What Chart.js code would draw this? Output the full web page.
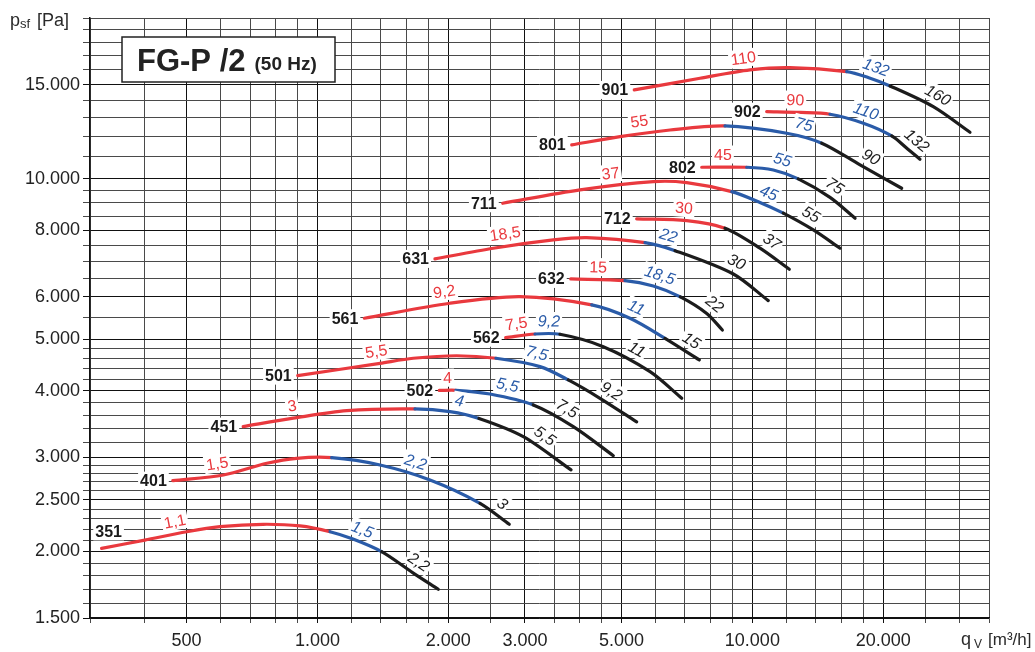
<!DOCTYPE html>
<html>
<head>
<meta charset="utf-8">
<script src="https://cdn.jsdelivr.net/npm/chart.js@4.4.1/dist/chart.umd.min.js"></script>
<style>
  html, body { margin: 0; padding: 0; background: #fff; }
</style>
</head>
<body>
<canvas id="fanChart" width="1035" height="652"></canvas>
<script>
// fan types in drawing order
const fanNames = ['351', '401', '451', '501', '502', '561', '562', '631', '632', '711', '712', '801', '802', '901', '902'];

// qv [m3/h] and psf [Pa]
const q351 = [319, 401, 501, 597, 750, 912, 1069, 1207, 1405, 1658, 1896];
const p351 = [2026, 2100, 2177, 2225, 2248, 2232, 2177, 2109, 1997, 1823, 1698];
const q401 = [465, 608, 765, 896, 1078, 1393, 1815, 2365, 2761];
const p401 = [2714, 2781, 2925, 2989, 2997, 2904, 2722, 2461, 2248];
const q451 = [675, 880, 1168, 1676, 2017, 2352, 2974, 3829];
const p451 = [3427, 3554, 3672, 3699, 3656, 3550, 3282, 2843];
const q501 = [901, 1393, 1661, 2090, 2573, 3249, 3774, 4463, 5420];
const p501 = [4271, 4504, 4603, 4654, 4603, 4440, 4192, 3873, 3497];
const q502 = [1906, 2082, 2493, 3136, 3875, 4790];
const p502 = [4006, 4009, 3945, 3763, 3427, 3023];
const q561 = [1282, 2017, 2922, 4272, 5231, 6297, 7552];
const p561 = [5472, 5838, 6006, 5796, 5472, 5017, 4570];
const q562 = [2709, 3164, 3611, 4542, 5818, 6881];
const p562 = [5031, 5112, 5106, 4840, 4344, 3873];
const q631 = [1863, 2537, 3486, 4160, 5664, 6641, 9040, 10879];
const p631 = [7069, 7403, 7672, 7749, 7583, 7326, 6624, 5904];
const q632 = [3823, 5095, 5920, 6830, 7853, 8531];
const p632 = [6483, 6436, 6290, 5999, 5586, 5201];
const q711 = [2667, 4015, 5920, 7065, 8964, 10411, 11780, 13809, 15904];
const p711 = [8988, 9522, 9867, 9825, 9452, 9020, 8611, 8010, 7403];
const q712 = [5420, 7065, 8651, 10411, 12160];
const p712 = [8403, 8339, 8069, 7403, 6760];
const q801 = [3843, 4961, 6466, 8651, 11994, 14437, 17687, 22045];
const p801 = [11564, 11985, 12333, 12549, 12160, 11649, 10609, 9590];
const q802 = [7648, 9705, 11172, 12753, 15084, 17225];
const p802 = [10500, 10500, 10377, 9985, 9218, 8427];
const q901 = [5351, 7580, 9875, 12206, 16477, 18450, 20723, 26057, 31647];
const p901 = [14661, 15418, 15984, 16144, 15867, 15474, 14917, 13641, 12212];
const q902 = [10787, 12868, 15084, 17999, 20911, 22551, 24286];
const p902 = [13350, 13303, 13200, 12697, 12020, 11437, 10870];

// point index where the motor range changes
const split351 = [6, 8], split401 = [4, 7], split451 = [3, 5], split501 = [4, 6], split502 = [1, 3];
const split561 = [3, 5], split562 = [1, 2], split631 = [4, 5], split632 = [1, 3], split711 = [4, 6];
const split712 = [2], split801 = [3, 5], split802 = [1, 3], split901 = [4, 6], split902 = [2, 4];

// motor power [kW] per range, and the flow where its label sits
const kw351 = ['1,1', '1,5', '2,2'], at351 = [476, 1239, 1650];
const kw401 = ['1,5', '2,2', '3'], at401 = [594, 1650, 2560];
const kw451 = ['3', '4', '5,5'], at451 = [883, 2093, 3215];
const kw501 = ['5,5', '7,5', '9,2'], at501 = [1378, 3147, 4583];
const kw502 = ['4', '5,5', '7,5'], at502 = [1996, 2699, 3631];
const kw561 = ['9,2', '11', '15'], at561 = [1975, 5259, 7002];
const kw562 = ['7,5', '9,2', '11'], at562 = [2892, 3407, 5259];
const kw631 = ['18,5', '22', '30'], at631 = [2728, 6297, 8931];
const kw632 = ['15', '18,5', '22'], at632 = [4416, 6005, 7866];
const kw711 = ['37', '45', '55'], at711 = [4757, 10634, 13213];
const kw712 = ['30', '37'], at712 = [6928, 10690];
const kw801 = ['55', '75', '90'], at801 = [5545, 12936, 18161];
const kw802 = ['45', '55', '75'], at802 = [8560, 11515, 14926];
const kw901 = ['110', '132', '160'], at901 = [9618, 18846, 25878];
const kw902 = ['90', '110', '132'], at902 = [12531, 17875, 22911];

// grid / tick values
const xGrid = [300, 400, 500, 600, 700, 800, 900, 1000, 1200, 1400, 1600, 1800, 2000, 2500, 3000, 3500, 4000, 4500,
  5000, 6000, 7000, 8000, 9000, 10000, 12000, 14000, 16000, 18000, 20000, 25000, 30000, 35000];
const xLabels = [500, 1000, 2000, 3000, 5000, 10000, 20000];
const yGrid = [1500, 1600, 1700, 1800, 1900, 2000, 2100, 2200, 2300, 2400, 2500, 2600, 2700, 2800, 2900, 3000,
  3200, 3400, 3600, 3800, 4000, 4200, 4400, 4600, 4800, 5000, 5500, 6000, 6500, 7000, 7500, 8000, 8500, 9000, 9500,
  10000, 11000, 12000, 13000, 14000, 15000, 16000, 17000, 18000, 19000, 20000];
const yLabels = [1500, 2000, 2500, 3000, 4000, 5000, 6000, 8000, 10000, 15000];

const curves = {
  351: { q: q351, p: p351, split: split351, kw: kw351, at: at351 },
  401: { q: q401, p: p401, split: split401, kw: kw401, at: at401 },
  451: { q: q451, p: p451, split: split451, kw: kw451, at: at451 },
  501: { q: q501, p: p501, split: split501, kw: kw501, at: at501 },
  502: { q: q502, p: p502, split: split502, kw: kw502, at: at502 },
  561: { q: q561, p: p561, split: split561, kw: kw561, at: at561 },
  562: { q: q562, p: p562, split: split562, kw: kw562, at: at562 },
  631: { q: q631, p: p631, split: split631, kw: kw631, at: at631 },
  632: { q: q632, p: p632, split: split632, kw: kw632, at: at632 },
  711: { q: q711, p: p711, split: split711, kw: kw711, at: at711 },
  712: { q: q712, p: p712, split: split712, kw: kw712, at: at712 },
  801: { q: q801, p: p801, split: split801, kw: kw801, at: at801 },
  802: { q: q802, p: p802, split: split802, kw: kw802, at: at802 },
  901: { q: q901, p: p901, split: split901, kw: kw901, at: at901 },
  902: { q: q902, p: p902, split: split902, kw: kw902, at: at902 }
};

const RED = '#e9393e', BLUE = '#2a5ba8', BLACK = '#1c1c1c';
const kindColor = { r: RED, b: BLUE, k: BLACK };
const segKinds = { 712: 'rk' };   // everything else is red / blue / black
const FONT = '"Liberation Sans", Arial, Helvetica, sans-serif';

function fmt(v) {
  return String(v).replace(/\B(?=(\d{3})+(?!\d))/g, '.');
}
function rangeOf(split, i) {
  let r = 0;
  split.forEach(s => { if (i >= s) r++; });
  return r;
}
function kindsOf(name) {
  return segKinds[name] || 'rbk';
}

const datasets = fanNames.map(name => {
  const c = curves[name];
  const kinds = kindsOf(name);
  return {
    label: name,
    data: c.q.map((q, i) => ({ x: q, y: c.p[i] })),
    borderColor: RED,
    borderWidth: 3.2,
    borderCapStyle: 'round',
    pointRadius: 0,
    tension: 0.3,
    fill: false,
    segment: {
      borderColor: ctx => kindColor[kinds[rangeOf(c.split, ctx.p0DataIndex)]]
    }
  };
});

// point + tangent on the drawn spline at pixel x
function bez(a, b, c, d, t) {
  const u = 1 - t;
  return u * u * u * a + 3 * u * u * t * b + 3 * u * t * t * c + t * t * t * d;
}
function bezD(a, b, c, d, t) {
  const u = 1 - t;
  return 3 * u * u * (b - a) + 6 * u * t * (c - b) + 3 * t * t * (d - c);
}
function pointOnCurve(pts, px) {
  for (let i = 0; i < pts.length - 1; i++) {
    const a = pts[i], b = pts[i + 1];
    if (px < a.x || px > b.x) continue;
    const x0 = a.x, x1 = a.cp2x ?? a.x, x2 = b.cp1x ?? b.x, x3 = b.x;
    const y0 = a.y, y1 = a.cp2y ?? a.y, y2 = b.cp1y ?? b.y, y3 = b.y;
    let lo = 0, hi = 1, t = 0.5;
    for (let k = 0; k < 40; k++) {
      t = (lo + hi) / 2;
      if (bez(x0, x1, x2, x3, t) < px) lo = t; else hi = t;
    }
    return {
      x: bez(x0, x1, x2, x3, t),
      y: bez(y0, y1, y2, y3, t),
      ang: Math.atan2(bezD(y0, y1, y2, y3, t), bezD(x0, x1, x2, x3, t))
    };
  }
  const last = pts[pts.length - 1];
  return { x: last.x, y: last.y, ang: 0 };
}

function tag(ctx, text, x, y, ang, font, color) {
  ctx.save();
  ctx.translate(x, y);
  ctx.rotate(ang);
  ctx.font = font;
  const w = ctx.measureText(text).width;
  ctx.fillStyle = '#fff';
  ctx.fillRect(-w / 2 - 2, -9, w + 4, 18);
  ctx.fillStyle = color;
  ctx.textAlign = 'center';
  ctx.textBaseline = 'middle';
  ctx.fillText(text, 0, 1);
  ctx.restore();
}

const curveLabels = {
  id: 'curveLabels',
  afterDatasetsDraw(chart) {
    const ctx = chart.ctx;
    const xs = chart.scales.x;
    const area = chart.chartArea;
    fanNames.forEach((name, di) => {
      const c = curves[name];
      const kinds = kindsOf(name);
      const pts = chart.getDatasetMeta(di).data;
      // motor power labels
      c.kw.forEach((txt, k) => {
        const pos = pointOnCurve(pts, xs.getPixelForValue(c.at[k]));
        const off = 12.5;
        const lx = pos.x + off * Math.sin(pos.ang);
        const ly = pos.y - off * Math.cos(pos.ang);
        const kind = kinds[k];
        const style = kind === 'r' ? '' : 'italic ';
        tag(ctx, txt, lx, ly, pos.ang, style + '16px ' + FONT, kindColor[kind]);
      });
      // fan size name
      const first = pts[0];
      ctx.save();
      ctx.font = 'bold 16px ' + FONT;
      const w = ctx.measureText(name).width;
      let cx = first.x - 6 - w / 2, cy = first.y;
      if (cx - w / 2 < area.left + 2) { cx = first.x + 7; cy = first.y - 17; }
      ctx.restore();
      tag(ctx, name, cx, cy, 0, 'bold 16px ' + FONT, '#1a1a1a');
    });
  },
  afterDraw(chart) {
    const ctx = chart.ctx;
    const area = chart.chartArea;
    ctx.save();
    // title box
    const bx = area.left + 32, by = area.top + 19;
    ctx.fillStyle = '#fff';
    ctx.fillRect(bx, by, 213, 45);
    ctx.strokeStyle = '#222';
    ctx.lineWidth = 1.5;
    ctx.strokeRect(bx, by, 213, 45);
    ctx.fillStyle = '#222';
    ctx.textBaseline = 'alphabetic';
    ctx.textAlign = 'left';
    ctx.font = 'bold 31px ' + FONT;
    ctx.fillText('FG-P /2', bx + 15, by + 34);
    const tw = ctx.measureText('FG-P /2').width;
    ctx.font = 'bold 19px ' + FONT;
    ctx.fillText('(50 Hz)', bx + 15 + tw + 9, by + 33);
    // axis titles
    ctx.fillStyle = '#2a2a2a';
    ctx.font = '18px ' + FONT;
    ctx.fillText('p', 10, 26);
    ctx.font = '13px ' + FONT;
    ctx.fillText('sf', 20, 28);
    ctx.font = '18px ' + FONT;
    ctx.fillText('[Pa]', 37, 26);
    ctx.fillText('q', 961, 645);
    ctx.font = '12px ' + FONT;
    ctx.fillText('V', 974, 648);
    ctx.font = '17px ' + FONT;
    ctx.fillText('[m\u00B3/h]', 988, 645);
    ctx.restore();
  }
};

function gridColor(list) {
  return ctx => (ctx.tick && list.includes(ctx.tick.value)) ? '#111' : '#4a4a4a';
}

new Chart(document.getElementById('fanChart'), {
  type: 'line',
  data: { datasets },
  options: {
    responsive: false,
    animation: false,
    events: [],
    layout: { padding: { top: 18, right: 46, left: 0, bottom: 0 } },
    plugins: { legend: { display: false }, tooltip: { enabled: false } },
    scales: {
      x: {
        type: 'logarithmic',
        min: 300,
        max: 35000,
        afterBuildTicks: s => { s.ticks = xGrid.map(v => ({ value: v })); },
        afterFit: s => { s.height = 34; },
        ticks: {
          autoSkip: false,
          maxRotation: 0,
          minRotation: 0,
          padding: 7,
          color: '#222',
          font: { family: FONT, size: 18 },
          callback: v => xLabels.includes(v) ? fmt(v) : ''
        },
        grid: { color: gridColor(xLabels), lineWidth: 1, tickLength: 5 },
        border: { color: '#111', width: 1.5 }
      },
      y: {
        type: 'logarithmic',
        min: 1500,
        max: 20000,
        afterBuildTicks: s => { s.ticks = yGrid.map(v => ({ value: v })); },
        afterFit: s => { s.width = 90; },
        ticks: {
          autoSkip: false,
          padding: 3,
          color: '#222',
          font: { family: FONT, size: 18 },
          callback: v => yLabels.includes(v) ? fmt(v) : ''
        },
        grid: { color: gridColor(yLabels), lineWidth: 1, tickLength: 7 },
        border: { color: '#111', width: 1.5 }
      }
    }
  },
  plugins: [curveLabels]
});
</script>
</body>
</html>
